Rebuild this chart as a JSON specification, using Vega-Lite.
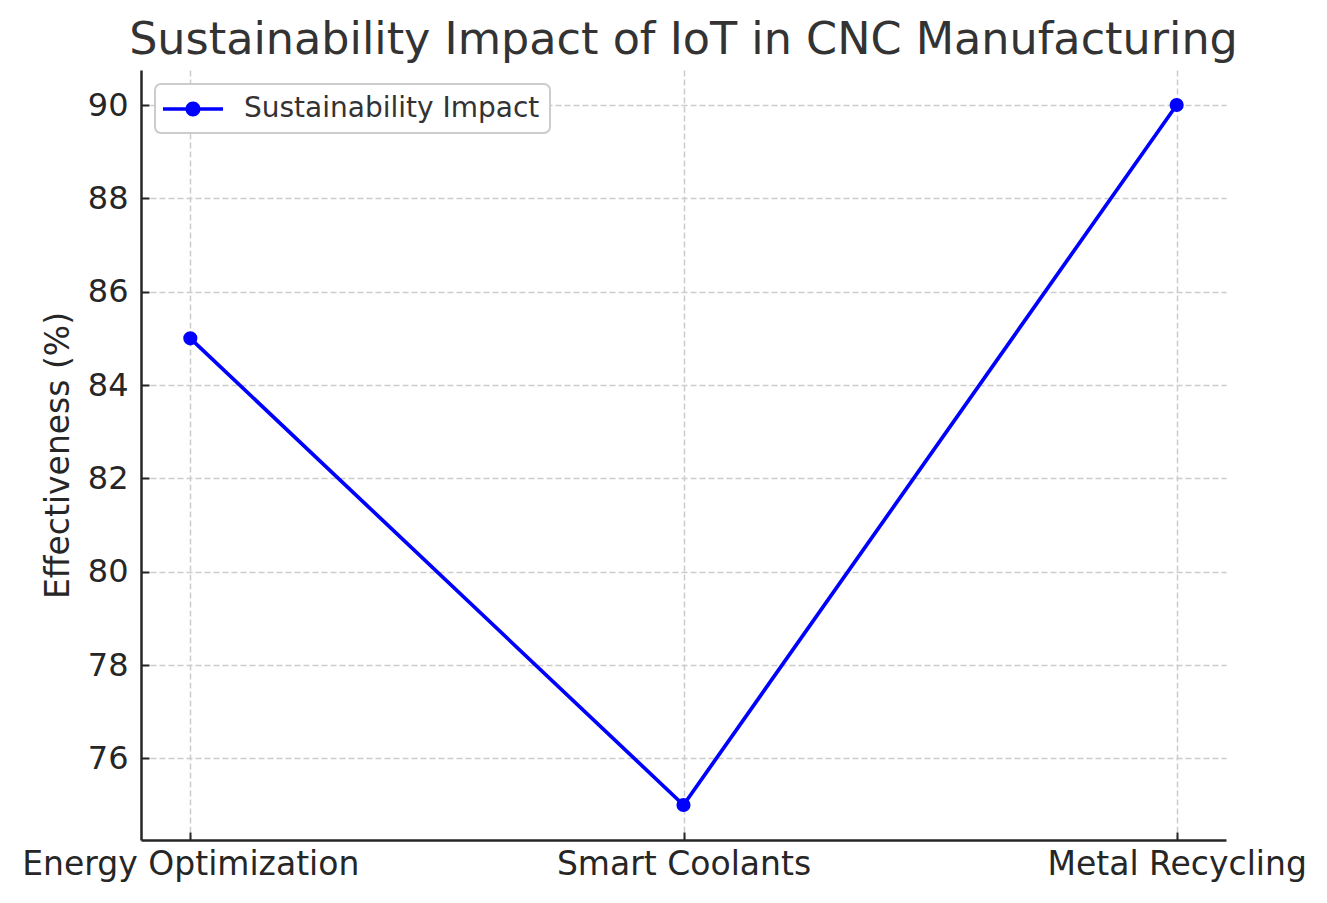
{
  "$schema": "https://vega.github.io/schema/vega-lite/v6.json",
  "width": 1085,
  "height": 770,
  "autosize": {"type": "none"},
  "padding": {"left": 141, "top": 70, "right": 101, "bottom": 63},
  "background": "white",
  "config": {
    "view": {"stroke": null},
    "font": "DejaVu Sans"
  },
  "title": {
    "text": "Sustainability Impact of IoT in CNC Manufacturing",
    "fontSize": 44.5,
    "font": "DejaVu Sans",
    "fontWeight": "normal",
    "color": "#333333",
    "anchor": "middle",
    "baseline": "alphabetic",
    "offset": 17,
    "dy": 45
  },
  "data": {
    "values": [
      {"category": "Energy Optimization", "effectiveness": 85, "series": "Sustainability Impact"},
      {"category": "Smart Coolants", "effectiveness": 75, "series": "Sustainability Impact"},
      {"category": "Metal Recycling", "effectiveness": 90, "series": "Sustainability Impact"}
    ]
  },
  "mark": {
    "type": "line",
    "strokeWidth": 3.7,
    "point": {"filled": true, "size": 200, "opacity": 1}
  },
  "encoding": {
    "x": {
      "field": "category",
      "type": "ordinal",
      "sort": null,
      "scale": {"type": "point", "padding": 0.1},
      "axis": {
        "title": null,
        "labelAngle": 0,
        "labelFontSize": 33,
        "labelColor": "#262626",
        "labelPadding": 16,
        "labelLimit": 0,
        "domainColor": "#262626",
        "domainWidth": 2.5,
        "tickColor": "#262626",
        "tickWidth": 2,
        "tickSize": -8,
        "grid": true,
        "gridColor": "#cccccc",
        "gridWidth": 1.5,
        "gridDash": [6, 3]
      }
    },
    "y": {
      "field": "effectiveness",
      "type": "quantitative",
      "scale": {"domain": [74.25, 90.75], "nice": false, "zero": false},
      "axis": {
        "title": "Effectiveness (%)",
        "titleFontSize": 33,
        "titleFontWeight": "normal",
        "titleColor": "#262626",
        "titlePadding": 12,
        "values": [76, 78, 80, 82, 84, 86, 88, 90],
        "labelFontSize": 32,
        "labelColor": "#262626",
        "labelPadding": 21,
        "domainColor": "#262626",
        "domainWidth": 2.5,
        "tickColor": "#262626",
        "tickWidth": 2,
        "tickSize": -8,
        "grid": true,
        "gridColor": "#cccccc",
        "gridWidth": 1.5,
        "gridDash": [6, 3]
      }
    },
    "color": {
      "field": "series",
      "type": "nominal",
      "scale": {"range": ["#0000ff"]},
      "legend": {
        "title": null,
        "orient": "top-left",
        "offset": 14,
        "labelFontSize": 28,
        "labelColor": "#333333",
        "labelOffset": 36,
        "labelLimit": 0,
        "padding": 10,
        "strokeColor": "#cccccc",
        "cornerRadius": 6,
        "fillColor": "white",
        "symbolOffset": 13,
        "symbolType": "M-2,-0.12L-0.49,-0.12L-0.49,0.12L-2,0.12Z M0.49,-0.12L2,-0.12L2,0.12L0.49,0.12Z M-0.5,0A0.5,0.5 0 1,1 0.5,0A0.5,0.5 0 1,1 -0.5,0Z",
        "symbolSize": 900,
        "encode": {
          "legend": {
            "update": {
              "strokeWidth": {"value": 2}
            }
          },
          "symbols": {
            "update": {
              "fill": {"value": "#0000ff"},
              "stroke": {"value": "#0000ff"},
              "strokeWidth": {"value": 0},
              "opacity": {"value": 1},
              "fillOpacity": {"value": 1}
            }
          }
        }
      }
    }
  }
}
